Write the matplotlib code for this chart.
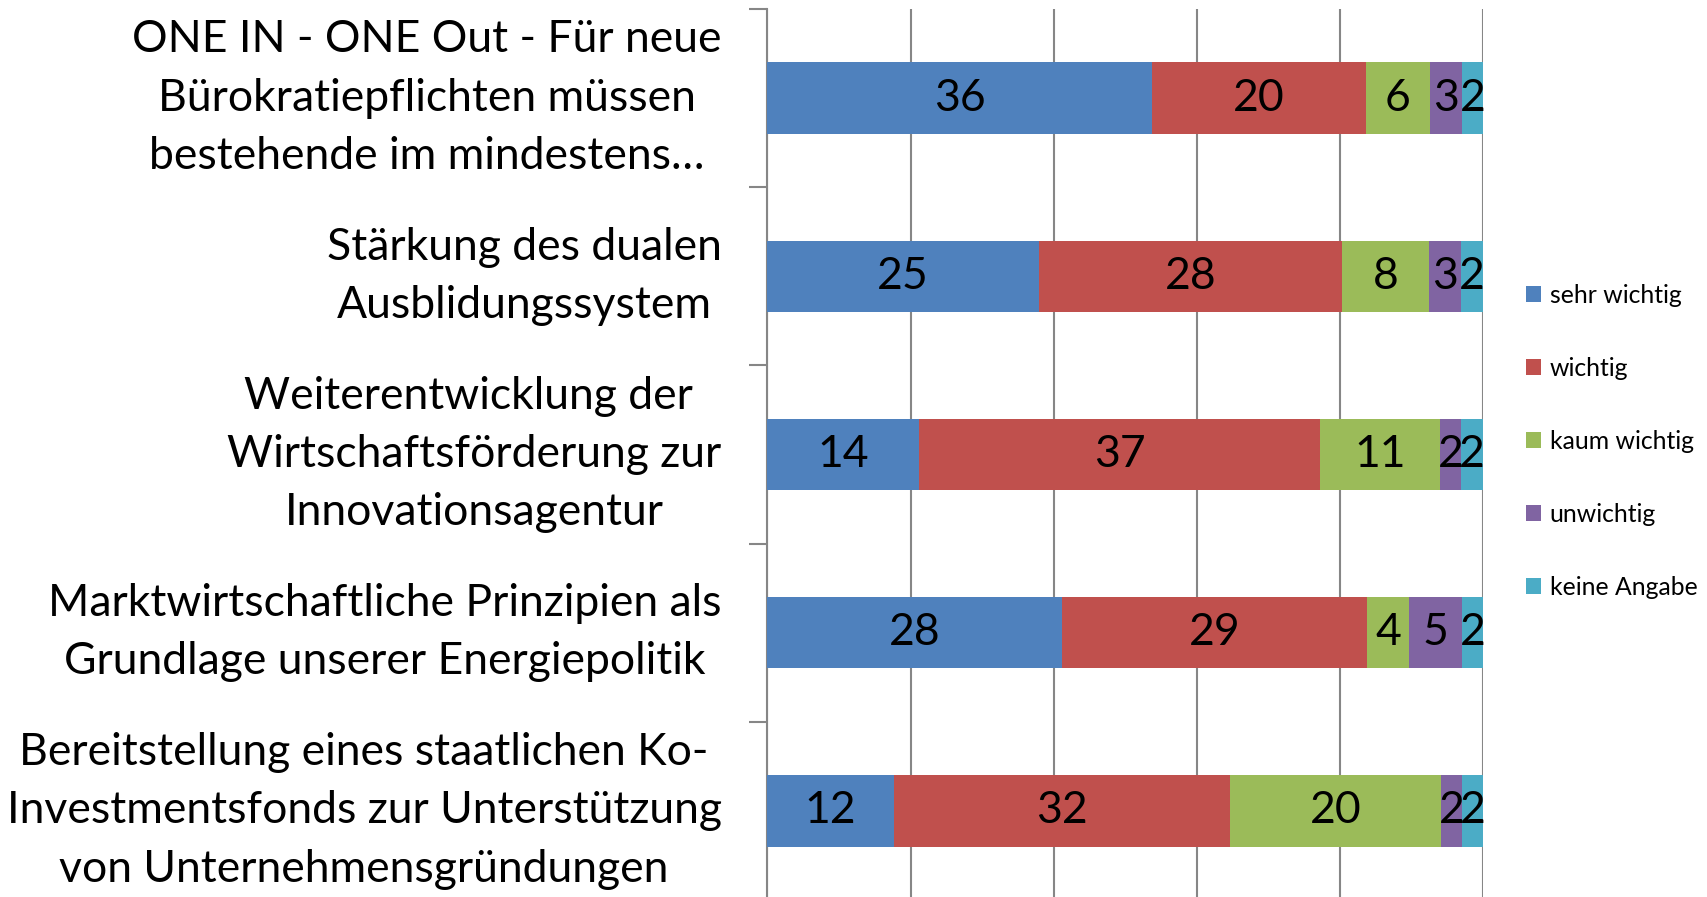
import matplotlib
matplotlib.use("Agg")
import matplotlib.pyplot as plt
import numpy as np

plt.rcParams['font.family'] = ['Lato', 'DejaVu Sans']

categories = ['ONE IN - ONE Out - Für neue\nBürokratiepflichten müssen\nbestehende im mindestens…',
              'Stärkung des dualen\nAusblidungssystem',
              'Weiterentwicklung der \nWirtschaftsförderung zur\nInnovationsagentur',
              'Marktwirtschaftliche Prinzipien als\nGrundlage unserer Energiepolitik',
              'Bereitstellung eines staatlichen Ko-\nInvestmentsfonds zur Unterstützung\nvon Unternehmensgründungen']
series = ['sehr wichtig', 'wichtig', 'kaum wichtig', 'unwichtig', 'keine Angabe']
sehr_wichtig = [36, 25, 14, 28, 12]
wichtig = [20, 28, 37, 29, 32]
kaum_wichtig = [6, 8, 11, 4, 20]
unwichtig = [3, 3, 2, 5, 2]
keine_angabe = [2, 2, 2, 2, 2]
colors = ['#4F81BD', '#C0504D', '#9BBB59', '#8064A2', '#4BACC6']

data = np.array([sehr_wichtig, wichtig, kaum_wichtig, unwichtig, keine_angabe], dtype=float)
totals = data.sum(axis=0)
shares = data / totals

fig = plt.figure(figsize=(17.07, 8.97), dpi=100)
ax = fig.add_axes([0.4496, -0.0033, 0.4192, 0.9933])

y = np.arange(len(categories))
left = np.zeros(len(categories))
for i in range(len(series)):
    bars = ax.barh(y, shares[i], left=left, height=0.4, color=colors[i], label=series[i], zorder=3)
    for j in range(len(categories)):
        ax.text(left[j] + shares[i][j] / 2, y[j], '%d' % data[i][j], ha='center', va='center',
                fontsize=32, color='black', zorder=4)
    left = left + shares[i]

ax.set_xlim(0, 1)
ax.set_ylim(len(categories) - 0.5, -0.5)
ax.set_xticks(np.arange(0, 1.01, 0.2))
ax.set_xticklabels([])
ax.tick_params(axis='x', length=0)
ax.grid(axis='x', color='#868686', linewidth=1.5, zorder=0)

ax.set_yticks(y)
ax.set_yticklabels(categories, fontsize=32)
for lab in ax.get_yticklabels():
    lab.set_multialignment('center')
    lab.set_verticalalignment('center')
    lab.set_linespacing(1.52)
ax.tick_params(axis='y', which='major', length=0, pad=33)
ax.set_yticks(np.arange(-0.5, len(categories) + 0.5, 1), minor=True)
ax.tick_params(axis='y', which='minor', length=13, width=1.5, color='#868686', direction='out')

for s in ['top', 'right', 'bottom']:
    ax.spines[s].set_visible(False)
ax.spines['left'].set_color('#868686')
ax.spines['left'].set_linewidth(1.5)

fig.legend(loc='center left', bbox_to_anchor=(0.881, 0.508), frameon=False, fontsize=17.8,
           handlelength=0.6, handleheight=0.6, handletextpad=0.35, labelspacing=2.02)

fig.savefig('out.png', dpi=100)
